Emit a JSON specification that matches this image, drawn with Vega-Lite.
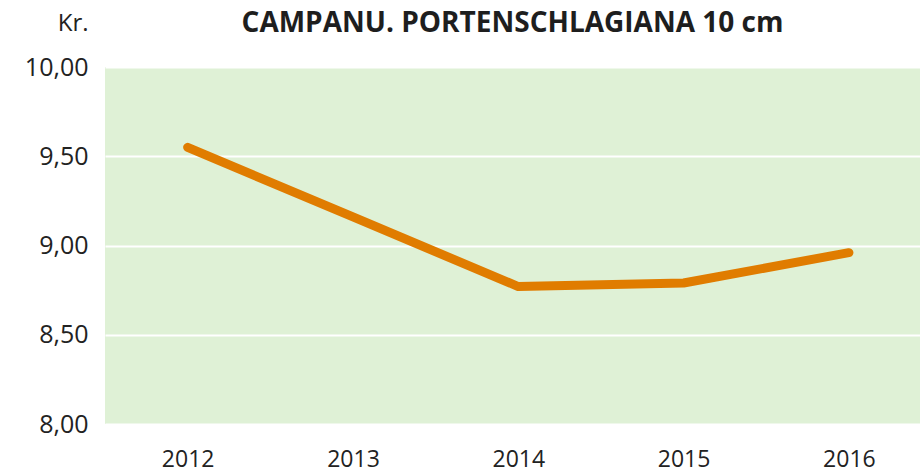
{
  "$schema": "https://vega.github.io/schema/vega-lite/v6.json",
  "autosize": {"type": "none"},
  "width": 815,
  "height": 357,
  "padding": {"left": 105, "top": 67, "right": 0, "bottom": 48},
  "background": "white",
  "title": {
    "text": "CAMPANU. PORTENSCHLAGIANA 10 cm",
    "font": "Open Sans",
    "fontSize": 28,
    "fontWeight": "bold",
    "color": "#1e1e1e",
    "anchor": "middle",
    "offset": 0,
    "dy": 27
  },
  "data": {
    "values": [
      {"year": 2012, "price": 9.55},
      {"year": 2013, "price": 9.16},
      {"year": 2014, "price": 8.77},
      {"year": 2015, "price": 8.79},
      {"year": 2016, "price": 8.96}
    ]
  },
  "mark": {"type": "line", "color": "#e07c00", "strokeWidth": 9, "strokeCap": "round", "strokeJoin": "round"},
  "encoding": {
    "x": {
      "field": "year",
      "type": "quantitative",
      "scale": {"domain": [2011.5, 2016.43], "nice": false, "zero": false},
      "axis": {
        "values": [2012, 2013, 2014, 2015, 2016],
        "format": "d",
        "title": null,
        "grid": false,
        "domain": false,
        "ticks": false,
        "labelPadding": 24,
        "labelFont": "Open Sans",
        "labelFontSize": 23,
        "labelColor": "#222222"
      }
    },
    "y": {
      "field": "price",
      "type": "quantitative",
      "scale": {"domain": [8, 10], "nice": false, "zero": false},
      "axis": {
        "values": [8, 8.5, 9, 9.5, 10],
        "labelExpr": "replace(format(datum.value, '.2f'), '.', ',')",
        "title": "Kr.",
        "titleAngle": 0,
        "titleAlign": "right",
        "titleBaseline": "middle",
        "titleX": -17,
        "titleY": -44,
        "titleFont": "Open Sans",
        "titleFontSize": 24,
        "titleFontWeight": "normal",
        "titleColor": "#222222",
        "grid": true,
        "gridColor": "white",
        "gridWidth": 2,
        "gridOpacity": 1,
        "domain": false,
        "ticks": false,
        "labelPadding": 17,
        "labelFont": "Open Sans",
        "labelFontSize": 25,
        "labelColor": "#222222"
      }
    }
  },
  "config": {
    "view": {"fill": "#dff1d6", "stroke": null}
  }
}
